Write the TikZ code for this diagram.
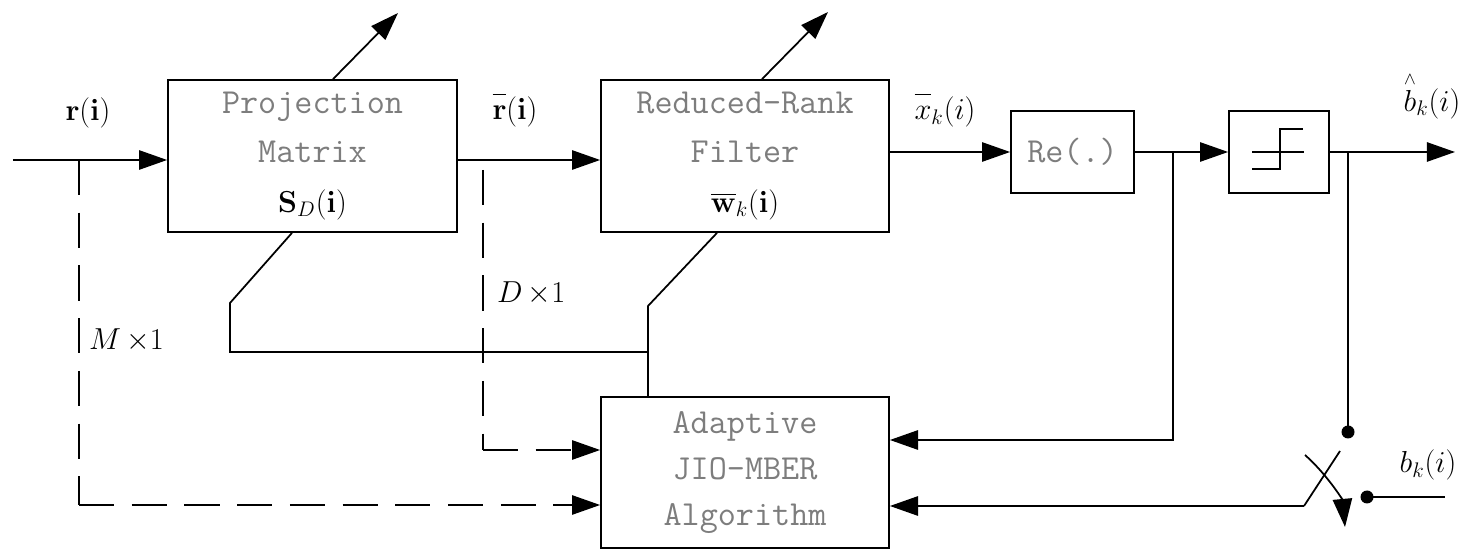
\documentclass[tikz,border=0pt]{standalone}
\usepackage{amsmath}
\usetikzlibrary{arrows.meta,positioning}
\definecolor{txtgray}{RGB}{125,125,125}

\begin{document}
\begin{tikzpicture}[
  blk/.style={draw,line width=1pt,align=center,text=txtgray,
  font=\fontsize{20}{28}\selectfont\ttfamily},
  ln/.style={line width=1pt},
  arr/.style={line width=1pt,-{Triangle[length=16pt,width=11pt]}},
  dsh/.style={line width=1pt,dash pattern=on 20pt off 10pt},
  lbl/.style={font=\LARGE},
]
\useasboundingbox (0,0) rectangle (29.44,11);
\node[blk,minimum width=5.78cm,minimum height=3.04cm] (proj) at (6.25,7.88)
  {Projection\\Matrix\\{\color{black}\LARGE$\mathbf{S}_D(\mathbf{i})$}};
\node[blk,minimum width=5.76cm,minimum height=3.04cm] (rr) at (14.9,7.88)
  {Reduced-Rank\\Filter\\{\color{black}\LARGE$\overline{\mathbf{w}}_k(\mathbf{i})$}};
\node[blk,minimum width=2.46cm,minimum height=1.64cm] (re) at (21.45,7.96) {Re(.)};
\node[draw,line width=1pt,minimum width=2cm,minimum height=1.64cm] (dec) at (25.58,7.96) {};
\node[blk,minimum width=5.76cm,minimum height=3.02cm,font=\fontsize{20}{26}\selectfont\ttfamily] (alg) at (14.9,1.55)
  {Adaptive\\JIO-MBER\\Algorithm};

\node[lbl] (rin) at (1.76,8.74) {$\mathbf{r}(\mathbf{i})$};
\node[lbl] (rbar) at (10.3,8.8) {$\overline{\vphantom{b}\mathbf{r}}(\mathbf{i})$};
\node[lbl] (xk) at (18.9,8.8) {$\overline{\vphantom{b}x}_k(i)$};
\node[lbl] (bhat) at (28.64,9.1) {$\overset{\scriptscriptstyle\wedge}{b}_k(i)$};
\node[lbl,anchor=west] (mdim) at (1.66,4.2) {$M\,{\times}1$};
\node[lbl,anchor=west] (ddim) at (9.82,5.14) {$D\,{\times}1$};
\node[lbl] (bk) at (28.56,1.7) {$b_k(i)$};

\coordinate (in) at (0.26,7.8);
\coordinate (tapM) at (1.58,7.8);
\coordinate (cM) at (1.58,0.9);
\coordinate (tapD) at (9.66,7.8);
\coordinate (cD) at (9.66,2.0);
\coordinate (tapRe) at (23.46,7.96);
\coordinate (fbRe) at (23.46,2.2);
\coordinate (tapO) at (26.96,7.96);
\coordinate (out) at (29.1,7.96);
\coordinate (swtop) at (26.96,2.36);
\coordinate (swin) at (27.34,1.06);
\coordinate (bkin) at (28.9,1.06);
\coordinate (lv) at (26.08,0.88);
\coordinate (lvtop) at (26.8,1.98);
\coordinate (cvs) at (26.1,1.9);
\coordinate (cve) at (26.9,0.46);
\coordinate (projadj) at (7.96,10.74);
\coordinate (rradj) at (16.56,10.76);
\coordinate (pbend) at (4.6,4.94);
\coordinate (rbend) at (12.96,4.88);
\coordinate (jn) at (12.96,3.96);

\draw[arr] (in) -- (in -| proj.west);
\draw[arr] (proj.east |- in) -- (rr.west |- in);
\draw[arr] (rr.east |- re.west) -- (re.west);
\draw[arr] (re.east) -- (dec.west);
\draw[arr] (dec.east) -- (out);

\draw[ln] ([shift={(-0.54,-0.34)}]dec.center) -- ++(0.56,0) -- ++(0,0.8) -- ++(0.46,0);
\draw[ln] ([shift={(-0.54,0)}]dec.center) -- ++(1.04,0);

\draw[arr] ([xshift=0.41cm]proj.north) -- (projadj);
\draw[arr] ([xshift=0.34cm]rr.north) -- (rradj);
\draw[ln] ([xshift=-0.41cm]proj.south) -- (pbend) |- (jn);
\draw[ln] ([xshift=-0.56cm]rr.south) -- (rbend) -- (jn |- alg.north);

\draw[dsh] (tapM) -- (cM);
\draw[dsh,-{Triangle[length=16pt,width=11pt]}] (cM) -- (cM -| alg.west);
\draw[dsh] ([yshift=-0.2cm]tapD) -- (cD);
\draw[dsh,-{Triangle[length=16pt,width=11pt]}] (cD) -- (cD -| alg.west);

\draw[arr] (tapRe) -- (fbRe) -- (fbRe -| alg.east);
\draw[ln] (tapO) -- (swtop);
\fill (swtop) circle (0.13);
\fill (swin) circle (0.13);
\draw[ln] (swin) -- (bkin);
\draw[ln] (lvtop) -- (lv);
\draw[arr] (lv) -- (lv -| alg.east);
\draw[arr] (cvs) .. controls (26.55,1.5) and (26.85,1.0) .. (cve);
\end{tikzpicture}
\end{document}
